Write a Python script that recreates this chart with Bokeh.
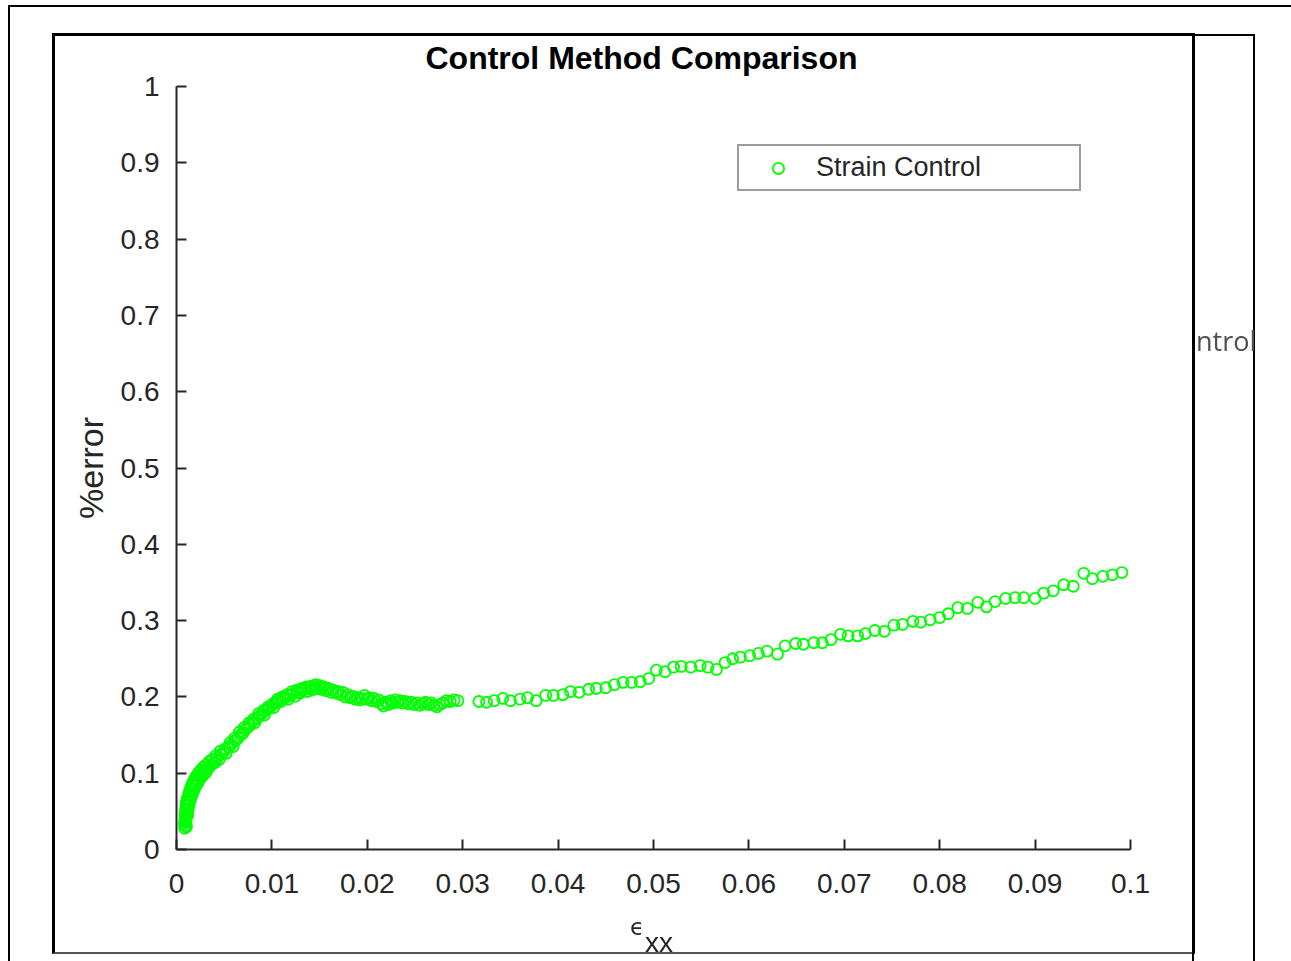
from bokeh.plotting import figure
from bokeh.layouts import column
from bokeh.models import FixedTicker, Legend, LegendItem, Div
from bokeh.embed import file_html
from bokeh.resources import INLINE

# ---------------- data ----------------
strain_main = [
    0.00082, 0.00086, 0.00090, 0.00093, 0.00096, 0.00099, 0.00102, 0.00105, 0.00108, 0.00111,
    0.00115, 0.00119, 0.00123, 0.00128, 0.00133, 0.00138, 0.00144, 0.00150, 0.00157, 0.00164,
    0.00171, 0.00179, 0.00188, 0.00197, 0.00207, 0.00217, 0.00228, 0.00240, 0.00252, 0.00265,
    0.00279, 0.00294, 0.00310, 0.00327, 0.00345, 0.00364, 0.00384,
    0.00405, 0.00425, 0.00448, 0.00470, 0.00495, 0.00520, 0.00545, 0.00570, 0.00595, 0.00620,
    0.00645, 0.00670, 0.00695, 0.00720, 0.00745, 0.00770, 0.00795, 0.00820, 0.00845, 0.00870,
    0.00895, 0.00920, 0.00945, 0.00970, 0.00995, 0.01020, 0.01045, 0.01070, 0.01095, 0.01120,
    0.01145, 0.01170, 0.01195, 0.01220, 0.01245, 0.01270, 0.01295, 0.01320, 0.01345, 0.01370,
    0.01395, 0.01420, 0.01445, 0.01470, 0.01495, 0.01520, 0.01545, 0.01570, 0.01595, 0.01620,
    0.01645, 0.01670, 0.01695, 0.01720, 0.01745, 0.01770, 0.01795, 0.01820, 0.01845, 0.01870,
    0.01895, 0.01920, 0.01945, 0.01970, 0.01995, 0.02020, 0.02045, 0.02070, 0.02095, 0.02120,
    0.02145, 0.02170, 0.02195, 0.02220, 0.02245, 0.02270, 0.02295, 0.02320, 0.02345, 0.02370,
    0.02400, 0.02430, 0.02460, 0.02490, 0.02520, 0.02550, 0.02580, 0.02610, 0.02640, 0.02670,
    0.02700, 0.02730, 0.02760, 0.02790, 0.02830, 0.02870, 0.02910, 0.02950,
    0.0317, 0.0325, 0.0333, 0.0342, 0.0350, 0.0360, 0.0368, 0.0377, 0.0387, 0.0395,
    0.0405, 0.0413, 0.0422, 0.0432, 0.0440, 0.0450, 0.0459, 0.0468, 0.0477, 0.0486,
    0.0495, 0.0503, 0.0512, 0.0521, 0.0529, 0.0539,
    0.0549, 0.0557, 0.0566, 0.0575, 0.0583, 0.0591, 0.0601, 0.0610, 0.0619, 0.0630,
    0.0638, 0.0649, 0.0657, 0.0668, 0.0677, 0.0686, 0.0696, 0.0704, 0.0714, 0.0722,
    0.0732, 0.0742, 0.0752, 0.0761, 0.0772, 0.0780, 0.0790, 0.0800, 0.0809, 0.0819,
    0.0829, 0.0840, 0.0849, 0.0858, 0.0869, 0.0879, 0.0888, 0.0900, 0.0909, 0.0919,
    0.0930, 0.0940, 0.0951, 0.0960, 0.0971, 0.0981, 0.0991,
]
error_main = [
    0.034, 0.028, 0.040, 0.031, 0.046, 0.036, 0.051, 0.030, 0.043, 0.056,
    0.048, 0.061, 0.053, 0.066, 0.058, 0.071, 0.064, 0.075, 0.069, 0.079,
    0.074, 0.083, 0.079, 0.087, 0.084, 0.091, 0.088, 0.095, 0.093, 0.099,
    0.097, 0.103, 0.101, 0.106, 0.108, 0.111, 0.113,
    0.114, 0.120, 0.118, 0.125, 0.128, 0.126, 0.134, 0.137, 0.135, 0.143,
    0.146, 0.150, 0.152, 0.157, 0.160, 0.163, 0.167, 0.166, 0.172, 0.175,
    0.178, 0.176, 0.183, 0.185, 0.188, 0.186, 0.192, 0.195, 0.194, 0.198,
    0.199, 0.197, 0.202, 0.204, 0.201, 0.206, 0.205, 0.208, 0.210, 0.207,
    0.212, 0.209, 0.213, 0.211, 0.215, 0.210, 0.213, 0.208, 0.211, 0.206,
    0.209, 0.205, 0.207, 0.203, 0.206, 0.200, 0.203, 0.199, 0.201, 0.197,
    0.199, 0.196, 0.198, 0.202, 0.197, 0.199, 0.195, 0.198, 0.194, 0.196,
    0.191, 0.188, 0.193, 0.190, 0.195, 0.192, 0.196, 0.193, 0.195, 0.192,
    0.194, 0.191, 0.193, 0.190, 0.192, 0.189, 0.191, 0.193, 0.190, 0.192,
    0.189, 0.187, 0.190, 0.192, 0.195, 0.194, 0.196, 0.195,
    0.194, 0.193, 0.195, 0.198, 0.195, 0.197, 0.199, 0.195, 0.202, 0.202,
    0.203, 0.207, 0.206, 0.210, 0.211, 0.212, 0.216, 0.219, 0.219, 0.220,
    0.224, 0.235, 0.233, 0.239, 0.240, 0.239,
    0.241, 0.239, 0.236, 0.245, 0.250, 0.252, 0.254, 0.257, 0.260, 0.256,
    0.267, 0.270, 0.269, 0.271, 0.271, 0.275, 0.282, 0.280, 0.280, 0.283,
    0.287, 0.286, 0.294, 0.295, 0.299, 0.298, 0.301, 0.304, 0.309, 0.317,
    0.316, 0.324, 0.318, 0.325, 0.329, 0.330, 0.330, 0.329, 0.336, 0.339,
    0.347, 0.345, 0.362, 0.355, 0.358, 0.360, 0.363,
]
# second, slightly higher row of samples in the dense early part of the test
strain_early = [
    0.00088, 0.00094, 0.00100, 0.00098, 0.00104, 0.00112, 0.00118, 0.00126, 0.00135, 0.00146,
    0.00160, 0.00175, 0.00192, 0.00210, 0.00232, 0.00255, 0.00282, 0.00310, 0.00340, 0.00372,
    0.00410, 0.00460, 0.00510, 0.00560, 0.00610, 0.00660, 0.00710, 0.00760, 0.00810, 0.00860,
    0.00910, 0.00960, 0.01010, 0.01060, 0.01110, 0.01160, 0.01210, 0.01260, 0.01310, 0.01360,
    0.01410, 0.01460, 0.01510,
]
error_early = [
    0.046, 0.052, 0.058, 0.038, 0.062, 0.066, 0.045, 0.072, 0.076, 0.080,
    0.085, 0.089, 0.093, 0.097, 0.101, 0.104, 0.108, 0.111, 0.115, 0.118,
    0.123, 0.129, 0.132, 0.140, 0.146, 0.154, 0.160, 0.166, 0.171, 0.178,
    0.182, 0.187, 0.191, 0.197, 0.200, 0.203, 0.207, 0.209, 0.211, 0.213,
    0.214, 0.216, 0.214,
]
x_ticks = [0, 0.01, 0.02, 0.03, 0.04, 0.05, 0.06, 0.07, 0.08, 0.09, 0.1]
x_tick_labels = ["0", "0.01", "0.02", "0.03", "0.04", "0.05", "0.06", "0.07", "0.08", "0.09", "0.1"]
y_ticks = [0, 0.1, 0.2, 0.3, 0.4, 0.5, 0.6, 0.7, 0.8, 0.9, 1]
y_tick_labels = ["0", "0.1", "0.2", "0.3", "0.4", "0.5", "0.6", "0.7", "0.8", "0.9", "1"]
series_name = "Strain Control"
chart_title = "Control Method Comparison"
y_label = "%error"

strain = strain_main + strain_early
error = error_main + error_early

# ---------------- figure ----------------
W, H = 1291, 961
FONT = "Liberation Sans"
AX = "#262626"
GREEN = "#00ff00"

p = figure(width=W, height=H, x_range=(0, 0.1), y_range=(0, 1),
           output_backend="svg", toolbar_location=None,
           min_border_left=176, min_border_right=161,
           min_border_top=86, min_border_bottom=112,
           title=chart_title)
p.background_fill_color = "white"
p.border_fill_color = "white"
p.outline_line_color = None
p.grid.visible = False

p.title.align = "left"
p.title.offset = 249
p.title.standoff = 22
p.title.text_font = FONT
p.title.text_font_size = "32px"
p.title.text_font_style = "bold"
p.title.text_color = "black"

for ax, ticks, labels in ((p.xaxis[0], x_ticks, x_tick_labels), (p.yaxis[0], y_ticks, y_tick_labels)):
    ax.ticker = FixedTicker(ticks=ticks, minor_ticks=[])
    ax.major_label_overrides = dict(zip(ticks, labels))
    ax.axis_line_color = AX
    ax.axis_line_width = 2
    ax.major_tick_line_color = AX
    ax.major_tick_line_width = 2
    ax.major_tick_in = 10
    ax.major_tick_out = 0
    ax.minor_tick_line_color = None
    ax.major_label_text_font = FONT
    ax.major_label_text_font_size = "28px"
    ax.major_label_text_color = AX

p.xaxis.major_label_standoff = 24
p.yaxis.major_label_standoff = 17
p.yaxis.axis_label = y_label
p.yaxis.axis_label_text_font = FONT
p.yaxis.axis_label_text_font_size = "34px"
p.yaxis.axis_label_text_font_style = "normal"
p.yaxis.axis_label_text_color = AX
p.yaxis.axis_label_standoff = 8

r = p.scatter(strain, error, marker="circle", size=11, fill_color=None,
              line_color=GREEN, line_width=1.8)

legend = Legend(items=[LegendItem(label=series_name, renderers=[r])],
                location=(561, 658), margin=0, padding=6,
                glyph_width=66, glyph_height=28, label_standoff=5,
                label_width=257, label_height=28,
                label_text_font=FONT, label_text_font_size="27px",
                label_text_color=AX,
                border_line_color="#3a3a3a", border_line_width=2,
                background_fill_color="white", background_fill_alpha=1)
p.add_layout(legend)

# x-axis label (epsilon_xx) and the surrounding document frames, drawn as HTML
overlay_html = (
    '<div style="position:fixed;left:8px;top:5px;width:1400px;height:1100px;'
    'border-left:2px solid #000;border-top:2px solid #000;box-sizing:border-box;pointer-events:none"></div>'
    '<div style="position:fixed;left:52px;top:33px;width:1143px;height:921px;'
    'border:3px solid #000;border-bottom:2px solid #555;box-sizing:border-box;pointer-events:none"></div>'
    '<div style="position:fixed;left:1192px;top:34px;width:63px;height:1000px;'
    'border:2px solid #000;box-sizing:border-box;pointer-events:none"></div>'
    '<div style="position:fixed;left:1196px;top:327px;font-family:\'Open Sans\';font-size:27px;'
    'line-height:27px;color:#505050;white-space:nowrap">ntrol</div>'
    '<div style="position:fixed;left:630px;top:916px;font-family:\'DejaVu Sans\';font-size:23px;'
    'line-height:23px;color:#262626;white-space:nowrap">\u03f5</div>'
    '<div style="position:fixed;left:645px;top:929px;font-family:\'Liberation Sans\';font-size:28px;'
    'line-height:28px;color:#262626;white-space:nowrap">xx</div>'
)
overlay = Div(text=overlay_html, width=0, height=0,
              styles={"position": "absolute", "left": "0px", "top": "0px", "overflow": "visible"})

layout = column(p, overlay, spacing=0)
open("out.html", "w").write(file_html(layout, INLINE))
